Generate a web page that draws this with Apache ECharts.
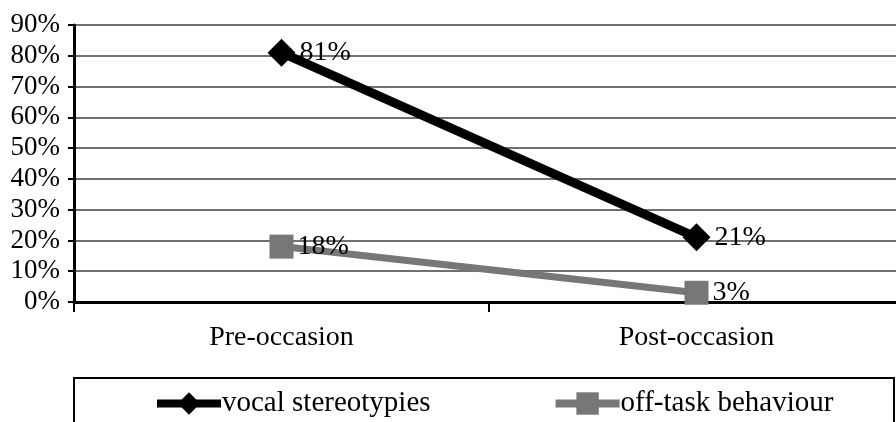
<!DOCTYPE html>
<html><head><meta charset="utf-8">
<script src="https://cdn.jsdelivr.net/npm/echarts@6/dist/echarts.min.js"></script>
<style>html,body{margin:0;padding:0;background:#fff;overflow:hidden}#c{width:904px;height:422px}</style>
</head><body><div id="c"></div>
<script>
const categories = ['Pre-occasion', 'Post-occasion'];
const vocalStereotypies = [81, 21];
const offTask = [18, 3];
const yTicks = [0, 10, 20, 30, 40, 50, 60, 70, 80, 90];
const font = 'Liberation Serif';
const chart = echarts.init(document.getElementById('c'));
chart.setOption({
  animation: false,
  grid: { left: 74, top: 25, bottom: 120, right: 0, containLabel: false },
  xAxis: {
    type: 'category', data: categories, boundaryGap: true,
    axisLine: { lineStyle: { color: '#000', width: 3 } },
    axisTick: { show: true, length: 10, lineStyle: { color: '#000', width: 2 } },
    axisLabel: { fontFamily: font, fontSize: 28, color: '#000', margin: 22 }
  },
  yAxis: {
    type: 'value', min: 0, max: 90, interval: 10,
    axisLine: { show: true, lineStyle: { color: '#000', width: 3 } },
    axisTick: { show: true, length: 6, lineStyle: { color: '#000', width: 2 } },
    splitLine: { lineStyle: { color: '#707070', width: 2 } },
    axisLabel: { fontFamily: font, fontSize: 27, color: '#000', margin: 14,
      formatter: v => v + '%' }
  },
  legend: {
    left: 148, top: 384, itemWidth: 64, itemHeight: 28, itemGap: 121,
    lineStyle: { width: 8 },
    textStyle: { fontFamily: font, fontSize: 29, color: '#000', padding: [0,0,0,-4] },
    data: ['vocal stereotypies', 'off-task behaviour']
  },
  graphic: [{ type: 'rect', shape: { x: 74, y: 378, width: 820, height: 60 },
    style: { fill: 'none', stroke: '#000', lineWidth: 2 }, z: 0 }],
  series: [
    { name: 'vocal stereotypies', type: 'line', data: vocalStereotypies,
      symbol: 'diamond', symbolSize: 28, color: '#000',
      lineStyle: { color: '#000', width: 9 }, itemStyle: { color: '#000' },
      label: { show: true, position: 'right', distance: 4, formatter: '{c}%',
        fontFamily: font, fontSize: 28, color: '#000' } },
    { name: 'off-task behaviour', type: 'line', data: offTask,
      symbol: 'rect', symbolSize: 24, color: '#777',
      lineStyle: { color: '#777', width: 7 }, itemStyle: { color: '#777' },
      label: { show: true, position: 'right', distance: 4, formatter: '{c}%',
        fontFamily: font, fontSize: 28, color: '#000' } }
  ]
});
</script></body></html>
